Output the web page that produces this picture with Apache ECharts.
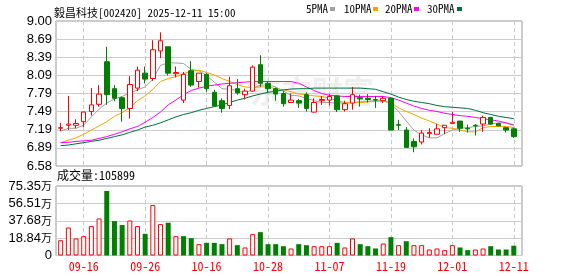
<!DOCTYPE html>
<html><head><meta charset="utf-8">
<script src="https://cdn.jsdelivr.net/npm/echarts@6/dist/echarts.min.js"></script>
<style>html,body{margin:0;padding:0;background:#fff}#c{width:578px;height:276px}</style>
</head><body><div id="c"></div>
<script>
const dates = ['09-11','09-12','09-15','09-16','09-17','09-18','09-19','09-22','09-23','09-24','09-25','09-26','09-29','09-30','10-09','10-10','10-13','10-14','10-15','10-16','10-17','10-20','10-21','10-22','10-23','10-24','10-27','10-28','10-29','10-30','10-31','11-03','11-04','11-05','11-06','11-07','11-10','11-11','11-12','11-13','11-14','11-17','11-18','11-19','11-20','11-21','11-24','11-25','11-26','11-27','11-28','12-01','12-02','12-03','12-04','12-05','12-08','12-09','12-10','12-11'];
const tickDates = ['09-16','09-26','10-16','10-28','11-07','11-19','12-01','12-11'];

const openP  = [7.21,7.26,7.26,7.32,7.49,7.61,8.32,7.87,7.72,7.54, 7.88,8.13,8.04,8.50,8.57,8.12,7.68,8.17,7.99,8.11, 7.81,7.67,7.59,7.87,7.77,7.83,8.27,7.96,7.87,7.79, 7.64,7.67,7.77,7.48,7.67,7.68,7.75,7.52,7.63,7.72, 7.71,7.69,7.67,7.71,7.27,7.18,6.99,6.98,7.12,7.11, 7.22,7.29,7.33,7.21,7.26,7.28,7.39,7.29,7.22,7.20];
const closeP = [7.22,7.28,7.29,7.48,7.60,7.78,7.77,7.71,7.54,7.94, 8.18,8.03,8.52,8.67,8.13,8.14,8.11,7.93,8.13,7.87, 7.58,7.54,7.92,7.80,7.83,8.23,7.96,7.87,7.78,7.62, 7.68,7.63,7.54,7.64,7.69,7.74,7.52,7.62,7.77,7.70, 7.69,7.68,7.71,7.18,7.26,6.89,6.90,7.13,7.14,7.20, 7.26,7.31,7.21,7.20,7.25,7.39,7.28,7.25,7.18,7.07];
const lowP   = [7.16,7.18,7.21,7.23,7.42,7.57,7.60,7.66,7.32,7.37, 7.83,7.96,8.00,8.38,8.09,8.06,7.63,7.90,7.89,7.82, 7.57,7.47,7.53,7.77,7.69,7.82,7.90,7.81,7.67,7.57, 7.63,7.55,7.49,7.47,7.60,7.59,7.48,7.49,7.52,7.57, 7.64,7.55,7.63,7.18,7.18,6.88,6.81,6.94,7.05,7.11, 7.11,7.28,7.15,7.14,7.09,7.15,7.27,7.24,7.14,7.05];
const highP  = [7.30,7.75,7.36,7.49,7.88,7.93,8.57,7.93,7.74,8.08, 8.24,8.24,8.68,8.81,8.57,8.24,8.15,8.33,8.13,8.13, 7.85,7.71,8.07,8.03,7.87,8.26,8.43,7.99,7.89,7.83, 7.79,7.70,7.81,7.71,7.75,7.78,7.76,7.67,7.90,7.77, 7.78,7.75,7.75,7.72,7.35,7.23,7.04,7.18,7.21,7.28, 7.26,7.48,7.33,7.27,7.28,7.42,7.40,7.30,7.23,7.22];
const volume = [166000,304000,185000,210000,319000,402000,699000,373000,330000,380000, 319000,235000,547000,340000,355000,210000,210000,188000,123000,137000, 137000,123000,185000,112000,87000,232000,253000,123000,123000,101000, 76000,123000,112000,101000,101000,101000,137000,87000,185000,123000, 101000,76000,130000,199000,112000,155000,112000,112000,65000,76000, 58000,112000,87000,58000,65000,76000,101000,65000,65000,105899];

const ma5  = [7.16,7.21,7.21,7.26,7.40,7.53,7.63,7.70,7.74,7.80, 7.85,7.90,8.03,8.26,8.30,8.30,8.29,8.19,8.17,8.09, 7.98,7.87,7.86,7.84,7.79,7.87,7.93,7.93,7.90,7.83, 7.76,7.75,7.71,7.67,7.64,7.64,7.63,7.63,7.64,7.65, 7.66,7.67,7.67,7.62,7.49,7.33,7.18,7.10,7.05,7.05, 7.12,7.18,7.21,7.22,7.24,7.25,7.28,7.30,7.30,7.27];
const ma10 = [6.97,7.01,7.05,7.11,7.18,7.25,7.32,7.41,7.47,7.55, 7.67,7.75,7.86,7.99,8.04,8.07,8.12,8.16,8.18,8.14, 8.10,8.04,7.99,7.94,7.90,7.89,7.90,7.90,7.87,7.85, 7.82,7.78,7.77,7.75,7.74,7.71,7.67,7.64,7.64,7.64, 7.65,7.66,7.66,7.64,7.55,7.49,7.44,7.38,7.33,7.28, 7.22,7.21,7.18,7.15,7.15,7.22,7.24,7.24,7.24,7.22];
const ma20 = [6.97,6.975,6.99,7.00,7.01,7.04,7.07,7.11,7.15,7.20, 7.24,7.31,7.39,7.48,7.60,7.68,7.77,7.84,7.88,7.91, 7.93,7.95,7.96,7.97,7.98,7.99,7.99,7.99,7.99,7.99, 7.99,7.96,7.90,7.84,7.79,7.76,7.75,7.74,7.74,7.74, 7.74,7.74,7.74,7.72,7.68,7.63,7.58,7.54,7.51,7.49, 7.46,7.44,7.42,7.41,7.39,7.37,7.35,7.33,7.30,7.26];
const ma30 = [6.92,6.93,6.95,6.97,6.99,7.01,7.04,7.07,7.10,7.14, 7.18,7.23,7.26,7.30,7.35,7.40,7.44,7.47,7.51,7.54, 7.57,7.60,7.64,7.68,7.71,7.75,7.78,7.81,7.83,7.85, 7.865,7.87,7.87,7.88,7.88,7.88,7.88,7.88,7.88,7.88, 7.87,7.86,7.82,7.78,7.73,7.69,7.66,7.64,7.62,7.59, 7.57,7.56,7.55,7.54,7.51,7.47,7.44,7.41,7.39,7.37];

const priceTicks = ['6.58','6.89','7.19','7.49','7.79','8.09','8.39','8.69','9.00'];
const volTicks = ['0','18.84','37.68','56.51','75.35'];
const volUnit = '万';
const priceMin = 6.58, priceMax = 9.00, volMax = 753500;
const titleText = '毅昌科技[002420] 2025-12-11 15:00';
const volTitle = '成交量:105899';
const maNames = ['5PMA','10PMA','20PMA','30PMA'];
const maColors = ['#a0a0a0','#f5a300','#ff00ff','#00703a'];

const UP = '#ff0000', DOWN = '#008000', GRID = '#cccccc';
const FONT = '"Liberation Sans", Arial, sans-serif';
const MONO = '"Noto Sans Mono CJK SC", "Noto Sans CJK SC", "DejaVu Sans Mono", monospace';
const pStep = (priceMax - priceMin) / (priceTicks.length - 1);
const vStep = volMax / (volTicks.length - 1);
const xMin = -0.61, xMax = 60.07;
const tickIdx = tickDates.map(d => dates.indexOf(d));

const chart = echarts.init(document.getElementById('c'));
const mkX = (gi, showLabel) => ({
  type: 'value', gridIndex: gi, min: xMin, max: xMax,
  axisLine: {show: false},
  axisTick: {show: false, customValues: tickIdx},
  axisLabel: {show: showLabel, customValues: tickIdx, formatter: v => dates[Math.round(v)] || '',
    color: UP, fontSize: 12, fontFamily: MONO, margin: 5},
  splitLine: {show: true, lineStyle: {color: '#c8c8c8', type: [4, 3], width: 1}}
});
const maSeries = [ma5, ma10, ma20, ma30].map((arr, k) => ({
  name: maNames[k], type: 'line', xAxisIndex: 0, yAxisIndex: 0,
  data: arr.map((v, i) => [i, v]), showSymbol: false, symbol: 'none',
  lineStyle: {width: 1, color: maColors[k]}, itemStyle: {color: maColors[k]}, z: 3, silent: true
}));
const volData = volume.map((v, i) => {
  const prev = i === 0 ? openP[0] : closeP[i - 1];
  const up = closeP[i] >= prev;
  return {value: [i, v], itemStyle: up ? {color: '#fff', borderColor: UP, borderWidth: 1} : {color: DOWN, borderColor: DOWN, borderWidth: 0}};
});

const legendX = [306, 344, 385, 427];
const legendSq = [330, 373, 414, 457];
const legendGraphic = [];
maNames.forEach((n, k) => {
  legendGraphic.push({type: 'text', left: legendX[k], top: 3, style: {text: n, fontSize: 11, fill: '#000', fontFamily: MONO}});
  legendGraphic.push({type: 'rect', left: legendSq[k], top: 7, shape: {width: 5, height: 4}, style: {fill: maColors[k]}});
});

chart.setOption({
  animation: false,
  backgroundColor: '#fff',
  title: {text: titleText, left: 49, top: 2, textStyle: {fontSize: 11, fontWeight: 'normal', color: '#000', fontFamily: MONO}},
  graphic: [
    ...legendGraphic,
    {type: 'text', left: 57, top: 169, style: {text: volTitle, fontSize: 12, fill: '#000', fontFamily: MONO}},
    {type: 'text', left: 250, top: 76, z: -1, silent: true, style: {text: '东方财富', fontSize: 31, fontWeight: 'bold', fill: 'rgba(0,0,0,0.065)', fontFamily: '"Noto Sans CJK SC", sans-serif'}}
  ],
  grid: [
    {left: 56, right: 56, top: 21, height: 145, show: true, borderColor: '#999', borderWidth: 1, backgroundColor: 'transparent'},
    {left: 56, right: 56, top: 186, height: 69.5, show: true, borderColor: '#999', borderWidth: 1, backgroundColor: 'transparent'}
  ],
  xAxis: [mkX(0, false), mkX(1, true)],
  yAxis: [
    {type: 'value', gridIndex: 0, min: priceMin, max: priceMax, interval: pStep,
      axisLine: {show: false}, axisTick: {show: false},
      axisLabel: {formatter: v => priceTicks[Math.round((v - priceMin) / pStep)], color: '#000', fontSize: 13, fontFamily: FONT, margin: 4},
      splitLine: {lineStyle: {color: GRID, width: 1}}},
    {type: 'value', gridIndex: 1, min: 0, max: volMax, interval: vStep,
      axisLine: {show: false}, axisTick: {show: false},
      axisLabel: {formatter: v => { const k = Math.round(v / vStep); return k === 0 ? '{n|' + volTicks[0] + '}' : '{n|' + volTicks[k] + '}{w|' + volUnit + '}'; },
        rich: {n: {fontSize: 13, fontFamily: FONT, color: '#000'}, w: {fontSize: 11, fontFamily: '"Noto Sans CJK SC", sans-serif', color: '#000'}},
        margin: 4},
      splitLine: {lineStyle: {color: GRID, width: 1}}}
  ],
  series: [
    {type: 'candlestick', xAxisIndex: 0, yAxisIndex: 0, barWidth: 5, z: 4,
      encode: {x: 0, y: [1, 2, 3, 4]},
      data: dates.map((d, i) => [i, openP[i], closeP[i], lowP[i], highP[i]]),
      itemStyle: {color: '#fff', color0: DOWN, borderColor: UP, borderColor0: DOWN, borderWidth: 1}},
    ...maSeries,
    {type: 'bar', xAxisIndex: 1, yAxisIndex: 1, barWidth: 5, data: volData, silent: true, z: 4}
  ]
});
</script></body></html>
